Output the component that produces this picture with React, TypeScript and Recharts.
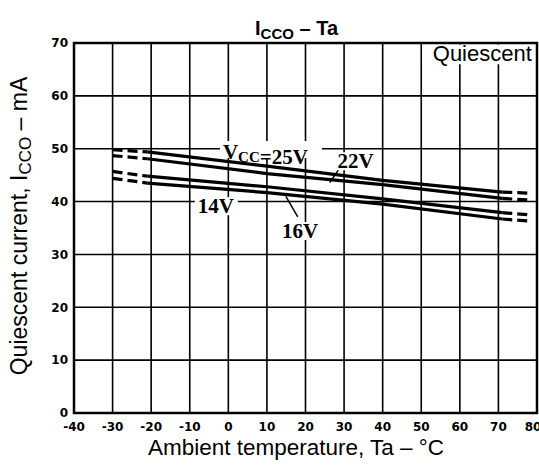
import { LineChart, Line, XAxis, YAxis, CartesianGrid, ReferenceArea, ReferenceDot, ReferenceLine } from "recharts"

// Ambient temperature (°C) where each curve was read; first and last pairs are the dashed ends
const temps = [-30, -21, 10, 40, 71, 78]

// Quiescent current ICCO (mA) per supply voltage
const icco25 = [49.8, 49.4, 46.7, 44.0, 41.8, 41.6]
const icco22 = [48.7, 48.1, 45.3, 43.2, 40.6, 40.3]
const icco16 = [45.7, 44.8, 42.8, 40.5, 37.9, 37.5]
const icco14 = [44.4, 43.5, 41.7, 39.5, 36.7, 36.3]

const xTicks = [-40, -30, -20, -10, 0, 10, 20, 30, 40, 50, 60, 70, 80]
const yTicks = [0, 10, 20, 30, 40, 50, 60, 70]

const series = [
  { name: "25V", values: icco25 },
  { name: "22V", values: icco22 },
  { name: "16V", values: icco16 },
  { name: "14V", values: icco14 },
]

function pts(values: number[], from: number, to: number) {
  return temps.slice(from, to).map((t, i) => ({ t, v: values[from + i] }))
}

const serif = "'Liberation Serif', 'DejaVu Serif', serif"
const sans = "'Liberation Sans', Arial, sans-serif"
const tickFont = { fill: "#000", fontSize: 12, fontWeight: "bold", fontFamily: "'DejaVu Sans', sans-serif" }

// curve label content; x,y is the text start on the baseline
const curveLabel = (kind: string) => (props: any) => {
  const { x, y } = props.viewBox
  if (kind === "vcc") {
    return (
      <g>
        <rect x={x - 3} y={y - 18} width={102} height={17} fill="#fff" />
        <text x={x} y={y} fontFamily={serif} fontWeight="bold" fontSize={21} fill="#000">
          V
          <tspan fontSize={15} dy={3}>CC</tspan>
          <tspan dy={2}>=25V</tspan>
        </text>
      </g>
    )
  }
  return (
    <g>
      <rect x={x - 3} y={y - 16} width={43} height={18} fill="#fff" />
      <text x={x} y={y} fontFamily={serif} fontWeight="bold" fontSize={21} fill="#000">
        {kind}
      </text>
    </g>
  )
}

const quiescentLabel = (props: any) => {
  const { x, y, width, height } = props.viewBox
  return (
    <text x={x + width - 4} y={y + height - 3} textAnchor="end" fontFamily={sans} fontSize={22} fill="#000">
      Quiescent
    </text>
  )
}

export default function App() {
  return (
    <div style={{ position: "absolute", left: 0, top: 0, width: 539, height: 465, background: "#fff" }}>
      <LineChart width={539} height={465} margin={{ top: 43, right: 2, bottom: 0, left: 0 }}>
        <CartesianGrid stroke="#000" strokeWidth={1.6} />
        <XAxis
          dataKey="t"
          type="number"
          domain={[-40, 80]}
          ticks={xTicks}
          height={52}
          axisLine={false}
          tickLine={false}
          tickMargin={3}
          tick={tickFont}
        />
        <YAxis
          type="number"
          domain={[0, 70]}
          ticks={yTicks}
          width={74}
          axisLine={false}
          tickLine={false}
          tickMargin={0}
          tick={tickFont}
        />
        <ReferenceArea x1={50.3} x2={79.7} y1={66} y2={69.7} fill="#fff" fillOpacity={1} stroke="none" label={{ content: quiescentLabel }} />
        <ReferenceArea x1={-40} x2={80} y1={0} y2={70} fill="none" stroke="#000" strokeWidth={2.5} />
        {series.map((s) => (
          <Line key={s.name + "a"} data={pts(s.values, 0, 2)} dataKey="v" type="linear" stroke="#000" strokeWidth={3.2} strokeDasharray="10 5" dot={false} isAnimationActive={false} />
        ))}
        {series.map((s) => (
          <Line key={s.name + "b"} data={pts(s.values, 1, 5)} dataKey="v" type="linear" stroke="#000" strokeWidth={3.2} dot={false} isAnimationActive={false} />
        ))}
        {series.map((s) => (
          <Line key={s.name + "c"} data={pts(s.values, 4, 6)} dataKey="v" type="linear" stroke="#000" strokeWidth={3.2} strokeDasharray="10 5" dot={false} isAnimationActive={false} />
        ))}
        <ReferenceLine segment={[{ x: 28.7, y: 46.2 }, { x: 26.3, y: 43.6 }]} stroke="#000" strokeWidth={1.5} />
        <ReferenceLine segment={[{ x: 18.0, y: 37.1 }, { x: 14.9, y: 41.0 }]} stroke="#000" strokeWidth={1.5} />
        <ReferenceDot x={-1.4} y={48.05} r={0} fill="none" stroke="none" label={{ content: curveLabel("vcc") }} />
        <ReferenceDot x={28.3} y={46.3} r={0} fill="none" stroke="none" label={{ content: curveLabel("22V") }} />
        <ReferenceDot x={-7.9} y={37.8} r={0} fill="none" stroke="none" label={{ content: curveLabel("14V") }} />
        <ReferenceDot x={13.9} y={33.1} r={0} fill="none" stroke="none" label={{ content: curveLabel("16V") }} />
      </LineChart>
      <svg width={539} height={465} style={{ position: "absolute", left: 0, top: 0, pointerEvents: "none" }}>
        <text x={255} y={35} fontFamily={sans} fontWeight="bold" fontSize={20} fill="#000">
          I<tspan fontSize={15} dy={4}>CCO</tspan>
          <tspan dy={-4}> – Ta</tspan>
        </text>
        <text x={296} y={455} textAnchor="middle" fontFamily={sans} fontSize={22.5} fill="#000">
          Ambient temperature, Ta – °C
        </text>
        <text x={27} y={226} textAnchor="middle" transform="rotate(-90 27 226)" fontFamily={sans} fontSize={23} fill="#000">
          Quiescent current, I<tspan fontSize={17} dy={4}>CCO</tspan>
          <tspan dy={-4}> – mA</tspan>
        </text>
      </svg>
    </div>
  )
}
